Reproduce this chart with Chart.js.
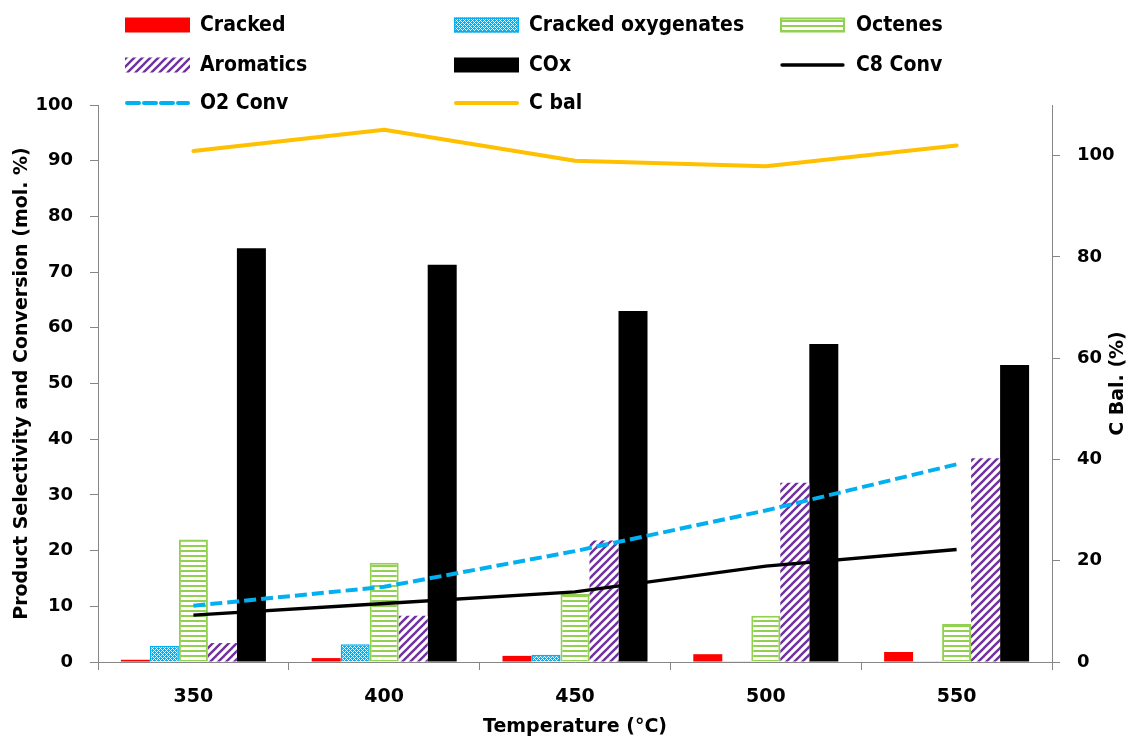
<!DOCTYPE html>
<html>
<head>
<meta charset="utf-8">
<script src="https://cdn.jsdelivr.net/npm/chart.js@4.4.1/dist/chart.umd.min.js"></script>
<style>
  html, body { margin: 0; padding: 0; background: #ffffff; }
  #wrap { width: 1132px; height: 740px; }
</style>
</head>
<body>
<div id="wrap"><canvas id="chart" width="1132" height="740"></canvas></div>
<script>
// Reaction temperature categories (°C)
const temperatures = ['350', '400', '450', '500', '550'];

// Product selectivities (mol. %)
const cracked = [0.4, 0.7, 1.1, 1.4, 1.8];
const crackedOxygenates = [2.9, 3.2, 1.3, 0.2, 0.2];
const octenes = [22.0, 17.8, 12.2, 8.3, 6.8];
const aromatics = [3.4, 8.3, 21.8, 32.2, 36.6];
const cox = [74.3, 71.3, 63.0, 57.1, 53.3];

// Conversions (mol. %)
const c8Conv = [8.4, 10.5, 12.6, 17.2, 20.2];
const o2Conv = [10.1, 13.5, 19.9, 27.2, 35.5];

// Carbon balance (%) on the right axis
const cBal = [100.9, 105.1, 99.0, 97.9, 102.0];

// Axis tick values
const leftTicks = [0, 10, 20, 30, 40, 50, 60, 70, 80, 90, 100];
const rightTicks = [0, 20, 40, 60, 80, 100];

const RED = '#FF0000', BLUE = '#00B0F0', GREEN = '#92D050',
      PURPLE = '#7030A0', ORANGE = '#FFC000', AXIS = '#868686';
const FONT = '"DejaVu Sans", "Open Sans", sans-serif';

function makePattern(w, h, paint) {
  const c = document.createElement('canvas');
  c.width = w; c.height = h;
  const g = c.getContext('2d');
  paint(g, w, h);
  return document.getElementById('chart').getContext('2d').createPattern(c, 'repeat');
}

// Blue fill with a fine white diagonal mesh
const meshBlue = makePattern(4, 4, (g) => {
  g.fillStyle = BLUE; g.fillRect(0, 0, 4, 4);
  g.fillStyle = 'rgba(255,255,255,0.9)';
  [[0,0],[1,1],[2,2],[3,3],[1,3],[3,1]].forEach(([x, y]) => g.fillRect(x, y, 1, 1));
});

// White fill with green horizontal stripes
const stripesGreen = makePattern(5, 5, (g) => {
  g.fillStyle = '#ffffff'; g.fillRect(0, 0, 5, 5);
  g.fillStyle = GREEN; g.fillRect(0, 0, 5, 2);
});

// White fill with purple "/" diagonal stripes
const diagPurple = makePattern(8, 8, (g) => {
  g.fillStyle = '#ffffff'; g.fillRect(0, 0, 8, 8);
  g.strokeStyle = PURPLE; g.lineWidth = 2.4;
  [-8, 0, 8].forEach((o) => {
    g.beginPath(); g.moveTo(o - 1, 9); g.lineTo(o + 9, -1); g.stroke();
  });
});

const barBase = { type: 'bar', order: 2, borderSkipped: 'start' };
const lineBase = { type: 'line', order: 1, pointRadius: 0, pointHoverRadius: 0, fill: false, tension: 0, yAxisID: 'y' };

const datasets = [
  { ...barBase, label: 'Cracked', data: cracked, backgroundColor: RED, borderWidth: 0 },
  { ...barBase, label: 'Cracked oxygenates', data: crackedOxygenates, backgroundColor: meshBlue, borderColor: BLUE, borderWidth: 1.5 },
  { ...barBase, label: 'Octenes', data: octenes, backgroundColor: stripesGreen, borderColor: GREEN, borderWidth: 2 },
  { ...barBase, label: 'Aromatics', data: aromatics, backgroundColor: diagPurple, borderWidth: 0 },
  { ...barBase, label: 'COx', data: cox, backgroundColor: '#000000', borderWidth: 0 },
  { ...lineBase, label: 'C8 Conv', data: c8Conv, borderColor: '#000000', borderWidth: 3.3 },
  { ...lineBase, label: 'O2 Conv', data: o2Conv, borderColor: BLUE, borderWidth: 4, borderDash: [12, 5] },
  { ...lineBase, label: 'C bal', data: cBal, borderColor: ORANGE, borderWidth: 4, yAxisID: 'y2', borderCapStyle: 'round', borderJoinStyle: 'round' }
];

// Three-column legend above the plot
const LEGEND_SWATCH_X = [125, 454, 780];
const LEGEND_TEXT_X = [200, 529, 856];
const LEGEND_ROW_Y = [25, 65, 103];
const SWATCH_W = 65, SWATCH_H = 15;

const gridLegend = {
  id: 'gridLegend',
  afterDraw(chart) {
    const ctx = chart.ctx;
    ctx.save();
    chart.data.datasets.forEach((ds, i) => {
      const col = i % 3, row = Math.floor(i / 3);
      const sx = LEGEND_SWATCH_X[col], cy = LEGEND_ROW_Y[row];
      if (ds.type === 'bar') {
        ctx.fillStyle = ds.backgroundColor;
        ctx.fillRect(sx, cy - SWATCH_H / 2, SWATCH_W, SWATCH_H);
        if (ds.borderWidth) {
          ctx.strokeStyle = ds.borderColor;
          ctx.lineWidth = ds.borderWidth;
          ctx.strokeRect(sx + ds.borderWidth / 2, cy - SWATCH_H / 2 + ds.borderWidth / 2,
                         SWATCH_W - ds.borderWidth, SWATCH_H - ds.borderWidth);
        }
      } else {
        ctx.strokeStyle = ds.borderColor;
        ctx.lineWidth = ds.borderWidth;
        ctx.setLineDash(ds.borderDash || []);
        ctx.lineCap = 'round';
        ctx.beginPath(); ctx.moveTo(sx + 2, cy); ctx.lineTo(sx + SWATCH_W - 2, cy); ctx.stroke();
        ctx.setLineDash([]);
      }
      ctx.fillStyle = '#000000';
      ctx.font = 'bold 21px "DejaVu Sans Condensed", ' + FONT;
      ctx.textAlign = 'left';
      ctx.textBaseline = 'middle';
      ctx.fillText(ds.label, LEGEND_TEXT_X[col], cy + 1);
    });

    // Right axis title, reading bottom to top
    const r = chart.scales.y2;
    ctx.translate(1118, (r.top + r.bottom) / 2);
    ctx.rotate(-Math.PI / 2);
    ctx.font = 'bold 19px ' + FONT;
    ctx.textAlign = 'center';
    ctx.textBaseline = 'middle';
    ctx.fillText('C Bal. (%)', 0, 0);
    ctx.restore();
  }
};

const whiteBackground = {
  id: 'whiteBackground',
  beforeDraw(chart) {
    const ctx = chart.ctx;
    ctx.save();
    ctx.fillStyle = '#ffffff';
    ctx.fillRect(0, 0, chart.width, chart.height);
    ctx.restore();
  }
};

const axisGrid = {
  display: true, drawOnChartArea: false, drawTicks: true, tickLength: 8, color: AXIS, lineWidth: 1
};

new Chart(document.getElementById('chart'), {
  data: { labels: temperatures, datasets },
  options: {
    responsive: false,
    animation: false,
    devicePixelRatio: 1,
    layout: { padding: { top: 105, left: 0, right: 0, bottom: 0 } },
    datasets: { bar: { categoryPercentage: 0.76, barPercentage: 1.0 } },
    plugins: { legend: { display: false }, tooltip: { enabled: false } },
    scales: {
      x: {
        type: 'category',
        offset: true,
        grid: { ...axisGrid, offset: true },
        border: { display: true, color: AXIS, width: 1 },
        ticks: { color: '#000000', font: { family: FONT, size: 19, weight: 'bold' }, padding: 16, maxRotation: 0 },
        title: { display: true, text: 'Temperature (°C)', color: '#000000',
                 font: { family: FONT, size: 19, weight: 'bold' }, padding: { top: 0, bottom: 2 } },
        afterFit(s) { s.height = 78; }
      },
      y: {
        type: 'linear',
        position: 'left',
        min: 0, max: 100,
        grid: axisGrid,
        border: { display: true, color: AXIS, width: 1 },
        ticks: { color: '#000000', font: { family: FONT, size: 18, weight: 'bold' }, padding: 17, stepSize: 10 },
        afterBuildTicks(s) { s.ticks = leftTicks.map((v) => ({ value: v })); },
        title: { display: true, text: 'Product Selectivity and Conversion (mol. %)', color: '#000000',
                 font: { family: FONT, size: 19, weight: 'bold' }, padding: { top: 11, bottom: 0 } },
        afterFit(s) { s.width = 98; }
      },
      y2: {
        type: 'linear',
        position: 'right',
        min: 0, max: 110,
        grid: axisGrid,
        border: { display: true, color: AXIS, width: 1 },
        ticks: { color: '#000000', font: { family: FONT, size: 18, weight: 'bold' }, padding: 17, stepSize: 20 },
        afterBuildTicks(s) { s.ticks = rightTicks.map((v) => ({ value: v })); },
        afterFit(s) { s.width = 80; }
      }
    }
  },
  plugins: [whiteBackground, gridLegend]
});
</script>
</body>
</html>
